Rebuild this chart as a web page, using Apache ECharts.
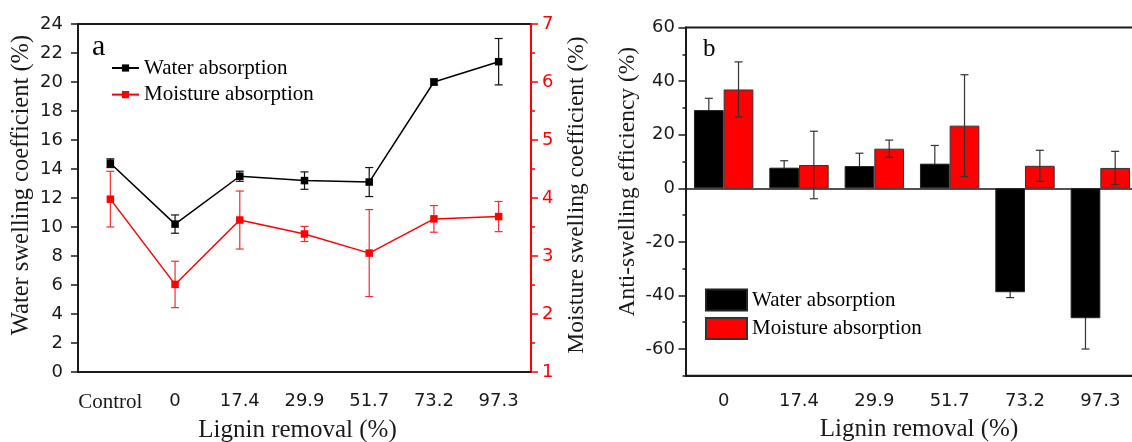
<!DOCTYPE html>
<html><head><meta charset="utf-8">
<script src="https://cdn.jsdelivr.net/npm/echarts@6/dist/echarts.min.js"></script>
<style>html,body{margin:0;padding:0;background:#fff}#c{width:1132px;height:442px}</style>
</head><body><div id="c"></div>
<script>
// ---- data (panel a) ----
const categoriesA = ['Control', '0', '17.4', '29.9', '51.7', '73.2', '97.3'];
const waterSwelling = [14.4, 10.2, 13.5, 13.2, 13.1, 20.0, 21.4];
const waterSwellingErr = [0.3, 0.63, 0.35, 0.6, 1.0, 0.2, 1.6];
const moistureSwelling = [3.98, 2.51, 3.62, 3.38, 3.05, 3.64, 3.68];
const moistureSwellingErr = [0.48, 0.40, 0.50, 0.13, 0.75, 0.23, 0.26];
// ---- data (panel b) ----
const categoriesB = ['0', '17.4', '29.9', '51.7', '73.2', '97.3'];
const waterASE = [29.2, 7.7, 8.3, 9.2, -38.8, -48.5];
const waterASEErr = [4.4, 2.6, 4.8, 6.8, 2.0, 11.5];
const moistureASE = [36.9, 8.7, 14.8, 23.4, 8.4, 7.6];
const moistureASEErr = [10.3, 12.6, 3.2, 19.0, 5.8, 6.2];
// ---- tick labels ----
const leftTicksB = [-60, -40, -20, 0, 20, 40, 60];

const SERIF = '"Liberation Serif", "Times New Roman", serif';
const SANS = '"DejaVu Sans", sans-serif';
const AX = '#1a1a1a';
const RED = '#ff0000';

function errData(vals, errs) {
  return vals.map((v, i) => [i, v - errs[i], v + errs[i]]);
}
function errRender(offset, capW, color, lw) {
  return function (params, api) {
    const x = api.value(0);
    const lo = api.coord([x, api.value(1)]);
    const hi = api.coord([x, api.value(2)]);
    const cx = lo[0] + offset;
    const st = { stroke: color, lineWidth: lw };
    return {
      type: 'group',
      children: [
        { type: 'line', shape: { x1: cx, y1: lo[1], x2: cx, y2: hi[1] }, style: st },
        { type: 'line', shape: { x1: cx - capW / 2, y1: hi[1], x2: cx + capW / 2, y2: hi[1] }, style: st },
        { type: 'line', shape: { x1: cx - capW / 2, y1: lo[1], x2: cx + capW / 2, y2: lo[1] }, style: st }
      ]
    };
  };
}

const chart = echarts.init(document.getElementById('c'), null, { renderer: 'canvas' });
const BW = 29.7;
const option = {
  animation: false,
  backgroundColor: '#fff',
  grid: [
    { left: 78, top: 24, width: 453, height: 348, show: true, borderColor: AX, borderWidth: 2,
      backgroundColor: 'transparent', containLabel: false, outerBoundsMode: 'none' },
    { left: 686, top: 27.6, width: 452, height: 348.2, show: true, borderColor: AX, borderWidth: 2,
      backgroundColor: 'transparent', containLabel: false, outerBoundsMode: 'none' }
  ],
  legend: [
    {
      left: 111, top: 57, orient: 'vertical', padding: 0, itemWidth: 27, itemHeight: 9, itemGap: 4.6,
      selectedMode: false, data: ['Water absorption', 'Moisture absorption'],
      textStyle: { fontFamily: SERIF, fontSize: 21, color: '#000', lineHeight: 22 }
    },
    {
      left: 705, top: 288.6, orient: 'vertical', padding: 0, itemWidth: 41, itemHeight: 21, itemGap: 5.4,
      selectedMode: false, icon: 'rect', data: ['Water absorption (b)', 'Moisture absorption (b)'],
      formatter: n => n.replace(' (b)', ''),
      textStyle: { fontFamily: SERIF, fontSize: 21, color: '#000', lineHeight: 22 }
    }
  ],
  graphic: [
    { type: 'text', left: 92, top: 32, style: { text: 'a', font: '30px "Liberation Serif"', fill: '#000' } },
    { type: 'text', left: 703, top: 37, style: { text: 'b', font: '25px "Liberation Serif"', fill: '#000' } }
  ],
  xAxis: [
    {
      type: 'category', gridIndex: 0, data: categoriesA, boundaryGap: true,
      axisLine: { lineStyle: { color: AX, width: 2 } },
      axisTick: { alignWithLabel: true, length: 7, lineStyle: { color: AX, width: 1.5 } },
      axisLabel: {
        margin: 20, color: AX, fontFamily: SANS, fontSize: 18, interval: 0,
        formatter: v => (v === 'Control' ? '{s|Control}' : v),
        rich: { s: { fontFamily: SERIF, fontSize: 21, color: AX } }
      },
      name: 'Lignin removal (%)', nameLocation: 'middle', nameGap: 45,
      nameTextStyle: { fontFamily: SERIF, fontSize: 25, color: AX, padding: [0, 14, 0, 0] }
    },
    {
      type: 'category', gridIndex: 1, data: categoriesB, boundaryGap: true, position: 'bottom',
      axisLine: { onZero: false, lineStyle: { color: AX, width: 2 } },
      axisTick: { alignWithLabel: true, length: 7, lineStyle: { color: AX, width: 1.5 } },
      axisLabel: { margin: 17, color: AX, fontFamily: SANS, fontSize: 18, interval: 0 },
      name: 'Lignin removal (%)', nameLocation: 'middle', nameGap: 41,
      nameTextStyle: { fontFamily: SERIF, fontSize: 25, color: AX, padding: [0, 0, 0, 14] }
    },
    {
      type: 'category', gridIndex: 1, data: categoriesB, boundaryGap: true,
      axisLine: { onZero: true, lineStyle: { color: AX, width: 1.5 } },
      axisTick: { show: false }, axisLabel: { show: false }
    }
  ],
  yAxis: [
    {
      type: 'value', gridIndex: 0, position: 'left', min: 0, max: 24, interval: 2,
      axisLine: { show: true, lineStyle: { color: AX, width: 2 } },
      axisTick: { show: true, length: 7, lineStyle: { color: AX, width: 1.5 } },
      axisLabel: { margin: 15, color: AX, fontFamily: SANS, fontSize: 18 },
      splitLine: { show: false },
      name: 'Water swelling coefficient (%)', nameLocation: 'middle', nameGap: 44, nameRotate: 90,
      nameTextStyle: { fontFamily: SERIF, fontSize: 24.5, color: AX, padding: [0, 0, 0, 26] }
    },
    {
      type: 'value', gridIndex: 0, position: 'right', min: 1, max: 7, interval: 1,
      axisLine: { show: true, lineStyle: { color: RED, width: 2 } },
      axisTick: { show: true, length: 7, lineStyle: { color: RED, width: 1.5 } },
      minorTick: { show: true, splitNumber: 2, length: 4, lineStyle: { color: RED, width: 1.5 } },
      axisLabel: { margin: 11, color: RED, fontFamily: SANS, fontSize: 18 },
      splitLine: { show: false },
      name: 'Moisture swelling coefficient (%)', nameLocation: 'middle', nameGap: 34, nameRotate: 90,
      nameTextStyle: { fontFamily: SERIF, fontSize: 23.5, color: AX, padding: [0, 0, 0, 6] }
    },
    {
      type: 'value', gridIndex: 1, position: 'left', min: -70, max: 60, interval: 10,
      axisLine: { show: true, onZero: false, lineStyle: { color: AX, width: 2 } },
      axisTick: { show: true, length: 3.5, lineStyle: { color: AX, width: 1.5 } },
      axisLabel: { margin: 11, color: AX, fontFamily: SANS, fontSize: 18,
        formatter: v => (leftTicksB.indexOf(v) >= 0 ? String(v) : '') },
      splitLine: { show: false },
      name: 'Anti-swelling efficiency (%)', nameLocation: 'middle', nameGap: 46, nameRotate: 90,
      nameTextStyle: { fontFamily: SERIF, fontSize: 23.5, color: AX, padding: [0, 0, 0, 40] }
    },
    {
      type: 'value', gridIndex: 1, position: 'left', min: -70, max: 60, interval: 10,
      axisLine: { show: false, onZero: false },
      axisTick: { show: true, length: 7.5, customValues: leftTicksB, lineStyle: { color: AX, width: 1.5 } },
      axisLabel: { show: false }, splitLine: { show: false }
    }
  ],
  series: [
    {
      name: 'Water absorption', type: 'line', xAxisIndex: 0, yAxisIndex: 0, data: waterSwelling,
      symbol: 'rect', symbolSize: 7.5, lineStyle: { color: '#000', width: 1.5 }, itemStyle: { color: '#000' }, z: 4
    },
    {
      type: 'custom', xAxisIndex: 0, yAxisIndex: 0, data: errData(waterSwelling, waterSwellingErr),
      encode: { x: 0, y: [1, 2] }, renderItem: errRender(0, 8, '#111', 1.2), z: 3
    },
    {
      name: 'Moisture absorption', type: 'line', xAxisIndex: 0, yAxisIndex: 1, data: moistureSwelling,
      symbol: 'rect', symbolSize: 7.5, lineStyle: { color: RED, width: 1.5 }, itemStyle: { color: RED }, z: 4
    },
    {
      type: 'custom', xAxisIndex: 0, yAxisIndex: 1, data: errData(moistureSwelling, moistureSwellingErr),
      encode: { x: 0, y: [1, 2] }, renderItem: errRender(0, 8, '#f03030', 1.2), z: 3
    },
    {
      type: 'custom', xAxisIndex: 1, yAxisIndex: 2, data: errData(waterASE, waterASEErr),
      encode: { x: 0, y: [1, 2] }, renderItem: errRender(-BW / 2, 8, '#333', 1.2), z: 1
    },
    {
      name: 'Water absorption (b)', type: 'bar', xAxisIndex: 1, yAxisIndex: 2, data: waterASE,
      barWidth: BW, barGap: '0%', itemStyle: { color: '#000', borderColor: '#222', borderWidth: 1 }, z: 2
    },
    {
      name: 'Moisture absorption (b)', type: 'bar', xAxisIndex: 1, yAxisIndex: 2, data: moistureASE,
      barWidth: BW, barGap: '0%', itemStyle: { color: RED, borderColor: '#333', borderWidth: 1 }, z: 2
    },
    {
      type: 'custom', xAxisIndex: 1, yAxisIndex: 2, data: errData(moistureASE, moistureASEErr),
      encode: { x: 0, y: [1, 2] }, renderItem: errRender(BW / 2, 8, '#333', 1.2), z: 5
    }
  ]
};
chart.setOption(option);
</script>
</body></html>
